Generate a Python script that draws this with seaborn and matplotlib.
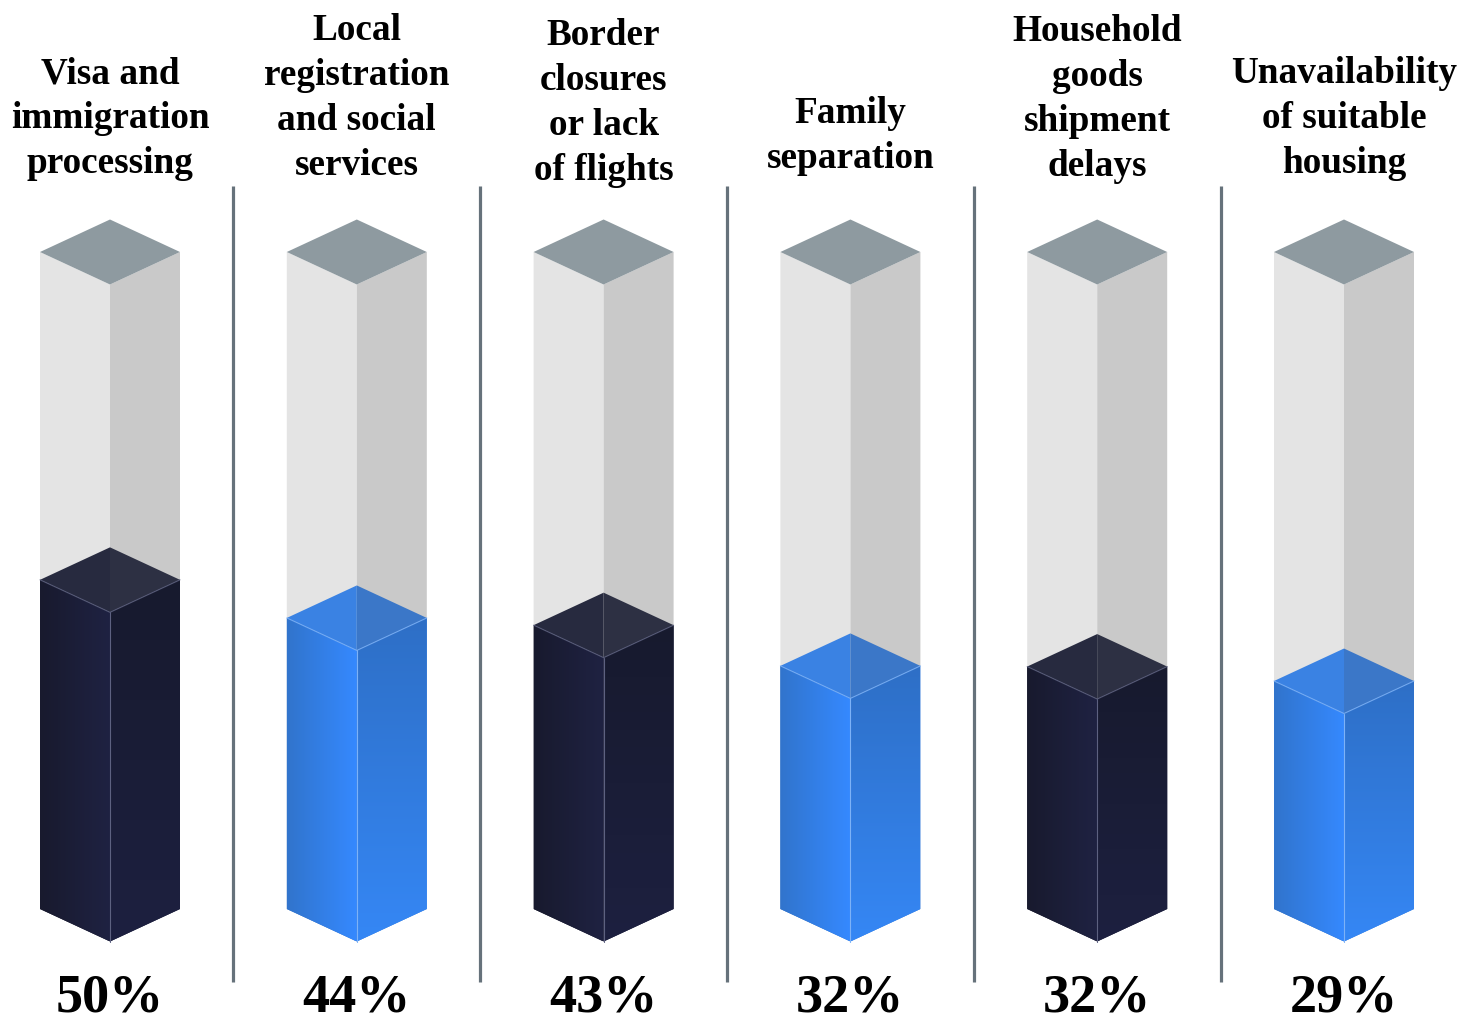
import numpy as np
import matplotlib
matplotlib.use("Agg")
import matplotlib.pyplot as plt
from matplotlib.patches import Polygon
import seaborn as sns

# ---------------- data ----------------
categories = [
    "Visa and\nimmigration\nprocessing",
    "Local\nregistration\nand social\nservices",
    "Border\nclosures\nor lack\nof flights",
    "Family\nseparation",
    "Household\ngoods\nshipment\ndelays",
    "Unavailability\nof suitable\nhousing",
]
values = [50, 44, 43, 32, 32, 29]                 # printed percentages
fill_level = [50.1, 44.3, 43.2, 37.0, 36.9, 34.7]  # fill height (% of column)
column_max = 100

# ---------------- layout (pixels of the 1473x1026 picture) ----------------
W_PX, H_PX = 1473, 1026
X0_PX, STEP_PX = 110, 246.8
BASE_PX, TOP_PX = 909, 252
PX_PER_UNIT = (BASE_PX - TOP_PX) / column_max
HALF_W = 70 / STEP_PX
DEPTH = 32.5 / PX_PER_UNIT
label_baseline_px = [173, 175, 180, 168, 176, 173]
LINE_STEP_PX = 45


def lx(px):
    return (px - X0_PX) / STEP_PX


def ly(px):
    return (BASE_PX - px) / PX_PER_UNIT


sns.set_theme(style="white")
plt.rcParams["font.family"] = ["Liberation Serif", "DejaVu Serif"]

fig = plt.figure(figsize=(W_PX / 100, H_PX / 100), dpi=100)
ax = fig.add_axes([0, 0, 1, 1])
ax.axis("off")

styles = {
    "navy": dict(left=("#181a2e", "#1f2242"), right=("#1d2040", "#171a2e"),
                 top=("#272a3f", "#2d3043"), edge="#5d6180"),
    "blue": dict(left=("#3174cc", "#3589ff"), right=("#3587f5", "#2e6fc6"),
                 top=("#3a82e3", "#3b77c8"), edge="#7db2f7"),
}
style_cycle = ["navy", "blue"]


def grad_face(verts, c0, c1, direction, z):
    poly = Polygon(verts, closed=True, facecolor=c0, edgecolor="none", zorder=z)
    ax.add_patch(poly)
    xs = [v[0] for v in verts]
    ys = [v[1] for v in verts]
    n = 256
    if direction == "h":
        arr = np.linspace(0, 1, n)[None, :]
    else:
        arr = np.linspace(0, 1, n)[:, None]
    cmap = sns.blend_palette([c0, c1], as_cmap=True)
    im = ax.imshow(arr, cmap=cmap, extent=(min(xs), max(xs), min(ys), max(ys)),
                   origin="lower", aspect="auto", zorder=z, interpolation="bilinear")
    im.set_clip_path(poly)


def faces(c, b, t):
    w, d = HALF_W, DEPTH
    left = [(c - w, b), (c, b - d), (c, t - d), (c - w, t)]
    right = [(c, b - d), (c + w, b), (c + w, t), (c, t - d)]
    top_l = [(c - w, t), (c, t + d), (c, t - d)]
    top_r = [(c, t + d), (c + w, t), (c, t - d)]
    top = [(c - w, t), (c, t + d), (c + w, t), (c, t - d)]
    return left, right, top_l, top_r, top


for i, (cat, val, lev) in enumerate(zip(categories, values, fill_level)):
    c = i
    # gray background column
    left, right, _, _, top = faces(c, 0, column_max)
    ax.add_patch(Polygon(left, closed=True, facecolor="#e4e4e4", edgecolor="none", zorder=1))
    ax.add_patch(Polygon(right, closed=True, facecolor="#c9c9c9", edgecolor="none", zorder=1))
    ax.add_patch(Polygon(top, closed=True, facecolor="#8e9aa0", edgecolor="none", zorder=1))
    # filled prism
    st = styles[style_cycle[i % 2]]
    left, right, top_l, top_r, _ = faces(c, 0, lev)
    grad_face(left, st["left"][0], st["left"][1], "h", 2)
    grad_face(right, st["right"][0], st["right"][1], "v", 2)
    ax.add_patch(Polygon(top_l, closed=True, facecolor=st["top"][0], edgecolor="none", zorder=3))
    ax.add_patch(Polygon(top_r, closed=True, facecolor=st["top"][1], edgecolor="none", zorder=3))
    # thin highlight edges
    ax.plot([c, c], [0 - DEPTH, lev - DEPTH], color=st["edge"], lw=0.8, zorder=4)
    ax.plot([c - HALF_W, c, c + HALF_W], [lev, lev - DEPTH, lev], color=st["edge"],
            lw=0.8, alpha=0.8, zorder=4)

    # category label, one line at a time, bottom aligned
    lines = cat.split("\n")
    base = label_baseline_px[i]
    for k, line in enumerate(reversed(lines)):
        ax.text(c, ly(base - k * LINE_STEP_PX), line, ha="center", va="baseline",
                fontsize=26.8, fontweight="bold", color="#000000", zorder=5)
    # value label
    ax.text(c, ly(1012), f"{val}%", ha="center", va="baseline", fontsize=39,
            fontweight="bold", color="#000000", zorder=5)

# separators
for i in range(len(categories) - 1):
    ax.plot([i + 0.5, i + 0.5], [ly(982), ly(186)], color="#66727b", lw=2.3,
            solid_capstyle="butt", zorder=1)

ax.set_xlim(lx(0), lx(W_PX))
ax.set_ylim(ly(H_PX), ly(0))

fig.savefig("out.png", dpi=100, facecolor="white")
